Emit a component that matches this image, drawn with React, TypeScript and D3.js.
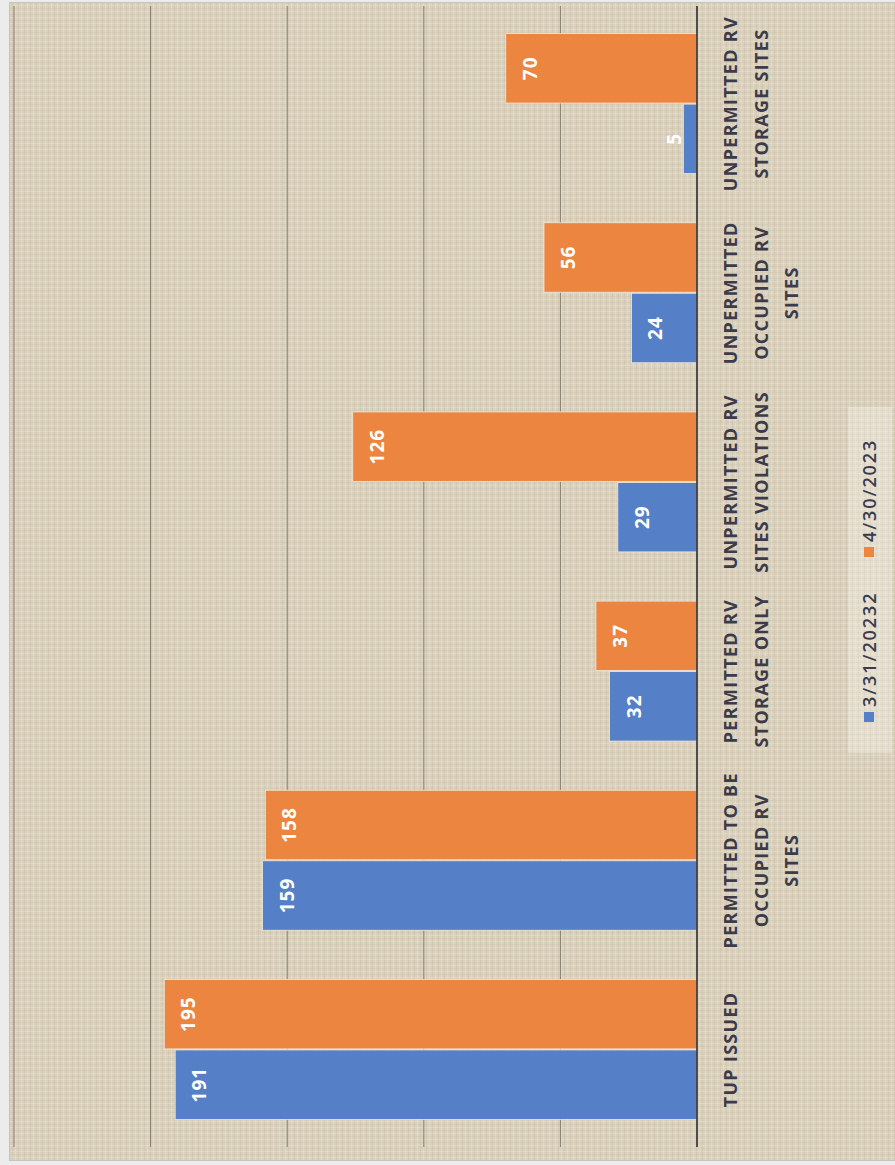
import React from "react";
import * as d3 from "d3";

const categoryLines: string[][] = [
  ["TUP ISSUED"],
  ["PERMITTED TO BE", "OCCUPIED RV", "SITES"],
  ["PERMITTED RV", "STORAGE ONLY"],
  ["UNPERMITTED RV", "SITES VIOLATIONS"],
  ["UNPERMITTED", "OCCUPIED RV", "SITES"],
  ["UNPERMITTED RV", "STORAGE SITES"],
];
const categories = categoryLines.map((l) => l.join(" "));
const seriesNames = ["3/31/20232", "4/30/2023"];
const seriesMarch = [191, 159, 32, 29, 24, 5];
const seriesApril = [195, 158, 37, 126, 56, 70];
const valueTicks = [0, 50, 100, 150, 200, 250];
const seriesColors = ["#5580c7", "#ec8540"];

export default function App() {
  const W = 895;
  const H = 1165;
  const plotLen = 1135; // along categories (screen vertical)
  const plotHeight = 683; // along values (screen horizontal)
  const x = d3
    .scaleBand<string>()
    .domain(categories)
    .range([0, plotLen])
    .paddingInner(0.26)
    .paddingOuter(0.13);
  const xs = d3
    .scaleBand<string>()
    .domain(seriesNames)
    .range([0, x.bandwidth()])
    .paddingInner(0.015);
  const y = d3.scaleLinear().domain([0, 250]).range([0, -plotHeight]);
  const series = [seriesMarch, seriesApril];

  const font = "'Open Sans', 'DejaVu Sans', sans-serif";
  const textColor = "#3b3b4b";

  return (
    <svg
      width={W}
      height={H}
      style={{ position: "absolute", left: 0, top: 0, background: "#ececec" }}
    >
      <defs>
        <pattern id="linen" width="6" height="6" patternUnits="userSpaceOnUse">
          <rect width="6" height="6" fill="#dad1bd" />
          <rect x="0" y="0" width="1" height="6" fill="#cdc3ae" opacity="0.7" />
          <rect x="3" y="0" width="1" height="6" fill="#e6dfcf" opacity="0.7" />
          <rect x="0" y="2" width="6" height="1" fill="#cfc5b0" opacity="0.5" />
          <rect x="0" y="5" width="6" height="1" fill="#e5ddcc" opacity="0.5" />
        </pattern>
      </defs>
      <rect x={9.5} y={2.5} width={895} height={1158} fill="url(#linen)" stroke="#c4c4c4" />
      <g transform={`translate(697,1144) rotate(-90)`}>
        {valueTicks
          .filter((t) => t > 0)
          .map((t) => (
            <line
              key={t}
              x1={-3}
              x2={plotLen + 3}
              y1={y(t)}
              y2={y(t)}
              stroke="#857e70"
              strokeWidth={1}
            />
          ))}
        {categories.map((c, ci) =>
          series.map((s, si) => {
            const bx = (x(c) as number) + (xs(seriesNames[si]) as number);
            const v = s[ci];
            return (
              <rect
                key={c + si}
                x={bx}
                y={y(v)}
                width={xs.bandwidth()}
                height={-y(v)}
                fill={seriesColors[si]}
                stroke="#f3e6d6"
                strokeWidth={0.8}
              />
            );
          })
        )}
        {categories.map((c, ci) =>
          series.map((s, si) => {
            const bx = (x(c) as number) + (xs(seriesNames[si]) as number) + xs.bandwidth() / 2;
            const v = s[ci];
            return (
              <text
                key={"l" + c + si}
                x={bx}
                y={Math.min(y(v) + 24, -23)}
                textAnchor="middle"
                dominantBaseline="central"
                fill="#ffffff"
                fontFamily={font}
                fontWeight={700}
                fontSize={19}
                letterSpacing={1}
              >
                {v}
              </text>
            );
          })
        )}
        <line x1={-3} x2={plotLen + 3} y1={0} y2={0} stroke="#2e2e2e" strokeWidth={1.6} />
        {categoryLines.map((lines, ci) => (
          <text
            key={"c" + ci}
            textAnchor="middle"
            fill={textColor}
            fontFamily={font}
            fontWeight={700}
            fontSize={18}
            letterSpacing={1.3}
            dominantBaseline="central"
          >
            {lines.map((ln, li) => (
              <tspan
                key={li}
                x={(x(categories[ci]) as number) + x.bandwidth() / 2}
                y={33 + li * 30.5}
              >
                {ln}
              </tspan>
            ))}
          </text>
        ))}
        <g>
          <rect x={391} y={151} width={346} height={44} fill="#ffffff" opacity={0.28} />
          {seriesNames.map((n, i) => {
            const sx = i === 0 ? 422 : 587;
            return (
              <g key={n}>
                <rect x={sx} y={167} width={10} height={10} fill={seriesColors[i]} />
                <text
                  x={sx + 15}
                  y={172}
                  dominantBaseline="central"
                  fill={textColor}
                  fontFamily={font}
                  fontWeight={600}
                  fontSize={18}
                  letterSpacing={1.9}
                >
                  {n}
                </text>
              </g>
            );
          })}
        </g>
      </g>
    </svg>
  );
}
